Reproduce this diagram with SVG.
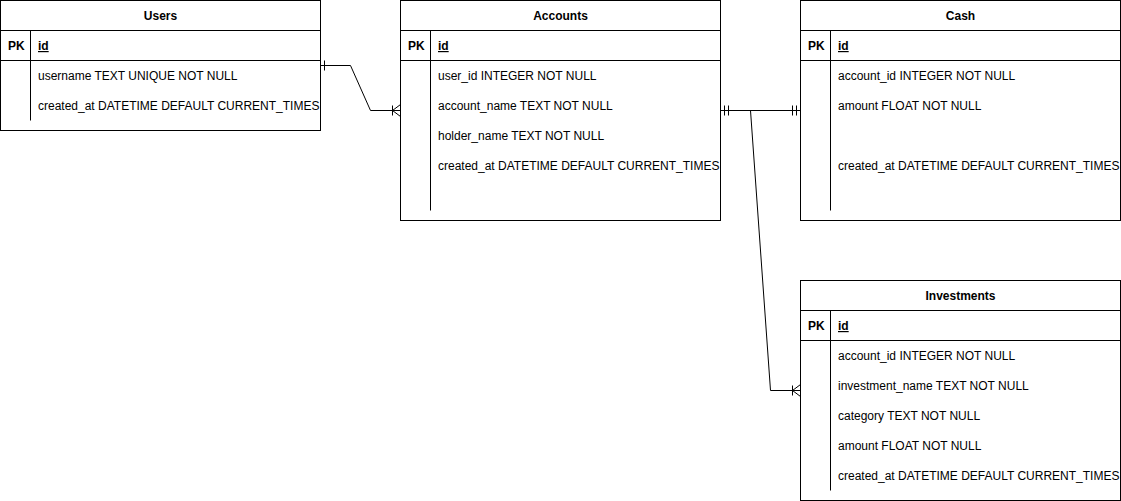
<svg xmlns="http://www.w3.org/2000/svg" width="1121" height="501" viewBox="0 0 1121 501">
<style>
.box{fill:#fff;stroke:#000;stroke-width:1}
.ln{stroke:#000;stroke-width:1;fill:none}
text{font-family:"Liberation Sans",Arial,Helvetica,sans-serif;font-size:12px;fill:#000}
.t{font-weight:bold;text-anchor:middle}
.pk{font-weight:bold}
.id{font-weight:bold;text-decoration:underline}
</style>
<rect width="1121" height="501" fill="#fff"/>

<g id="users">
<rect class="box" x="0.5" y="0.5" width="320" height="130"/>
<path class="ln" d="M0.5 30.5H320.5M0.5 60.5H320.5M30.5 30.5V120.5"/>
<text class="t" x="160.5" y="20">Users</text>
<text class="pk" x="8" y="50">PK</text>
<text class="id" x="38" y="50">id</text>
<text x="38" y="80">username TEXT UNIQUE NOT NULL</text>
<text x="38" y="110">created_at DATETIME DEFAULT CURRENT_TIMES</text>
</g>

<g id="accounts">
<rect class="box" x="400.5" y="0.5" width="320" height="220"/>
<path class="ln" d="M400.5 30.5H720.5M400.5 60.5H720.5M430.5 30.5V210.5"/>
<text class="t" x="560.5" y="20">Accounts</text>
<text class="pk" x="408" y="50">PK</text>
<text class="id" x="438" y="50">id</text>
<text x="438" y="80">user_id INTEGER NOT NULL</text>
<text x="438" y="110">account_name TEXT NOT NULL</text>
<text x="438" y="140">holder_name TEXT NOT NULL</text>
<text x="438" y="170">created_at DATETIME DEFAULT CURRENT_TIMES</text>
</g>

<g id="cash">
<rect class="box" x="800.5" y="0.5" width="320" height="220"/>
<path class="ln" d="M800.5 30.5H1120.5M800.5 60.5H1120.5M830.5 30.5V210.5"/>
<text class="t" x="960.5" y="20">Cash</text>
<text class="pk" x="808" y="50">PK</text>
<text class="id" x="838" y="50">id</text>
<text x="838" y="80">account_id INTEGER NOT NULL</text>
<text x="838" y="110">amount FLOAT NOT NULL</text>
<text x="838" y="170">created_at DATETIME DEFAULT CURRENT_TIMES</text>
</g>

<g id="investments">
<rect class="box" x="800.5" y="280.5" width="320" height="220"/>
<path class="ln" d="M800.5 310.5H1120.5M800.5 340.5H1120.5M830.5 310.5V490.5"/>
<text class="t" x="960.5" y="300">Investments</text>
<text class="pk" x="808" y="330">PK</text>
<text class="id" x="838" y="330">id</text>
<text x="838" y="360">account_id INTEGER NOT NULL</text>
<text x="838" y="390">investment_name TEXT NOT NULL</text>
<text x="838" y="420">category TEXT NOT NULL</text>
<text x="838" y="450">amount FLOAT NOT NULL</text>
<text x="838" y="480">created_at DATETIME DEFAULT CURRENT_TIMES</text>
</g>

<g id="connectors">
<path class="ln" d="M320.5 65.5H350.5L370.5 110.5H400.5"/>
<path class="ln" d="M324.5 60.5V70.5"/>
<path class="ln" d="M392.5 105.5V115.5M392.5 110.5L400.5 104.5M392.5 110.5L400.5 116.5"/>
<path class="ln" d="M720.5 110.5H800.5"/>
<path class="ln" d="M724.5 105.5V115.5M728.5 105.5V115.5M792.5 105.5V115.5M796.5 105.5V115.5"/>
<path class="ln" d="M720.5 110.5H750.5L770.5 390.5H800.5"/>
<path class="ln" d="M792.5 385.5V395.5M792.5 390.5L800.5 384.5M792.5 390.5L800.5 396.5"/>
</g>
</svg>
